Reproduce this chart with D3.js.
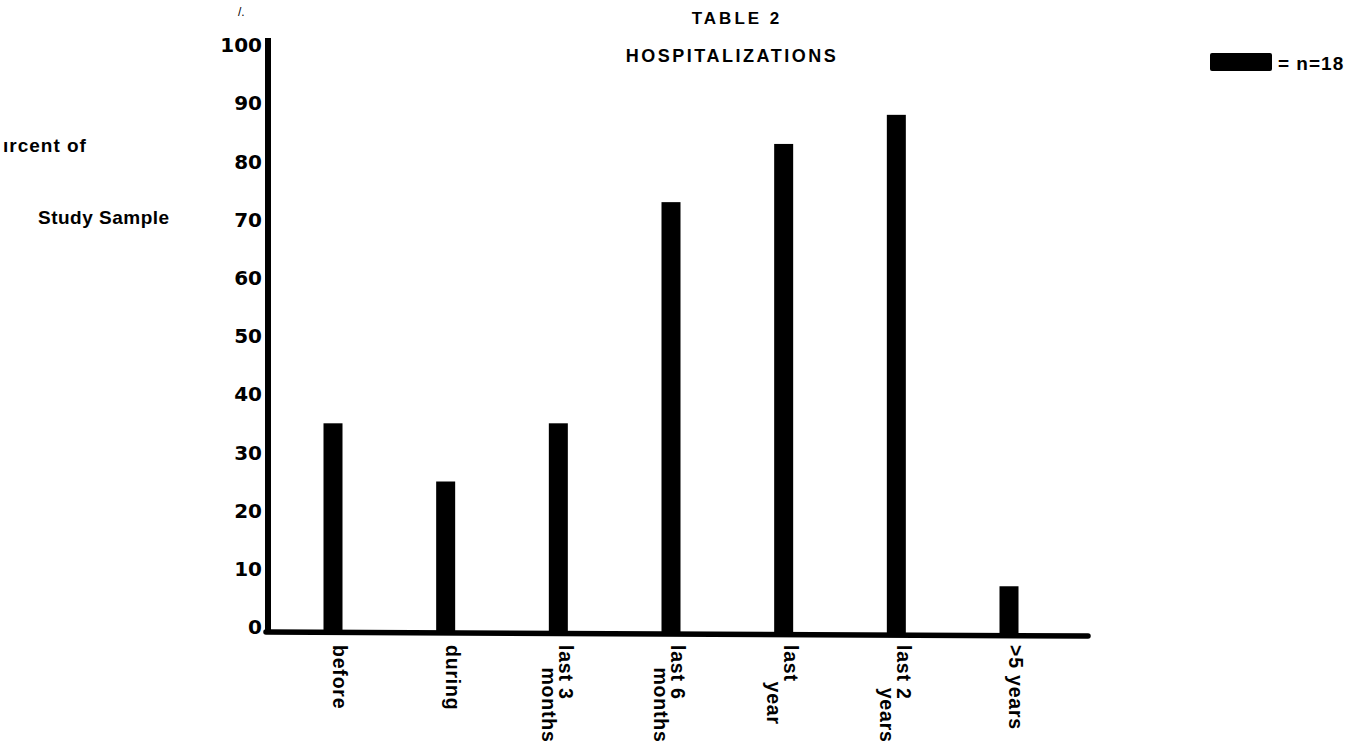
<!DOCTYPE html>
<html>
<head>
<meta charset="utf-8">
<script src="https://cdn.jsdelivr.net/npm/d3@7"></script>
<style>
  body { margin: 0; background: #fff; }
  text { font-family: "Liberation Sans", Arial, sans-serif; font-weight: bold; fill: #000; }
</style>
</head>
<body>
<div id="chart"></div>
<script>
const width = 1366, height = 750;

const categories = ['before', 'during', 'last 3|months', 'last 6|months', 'last|year', 'last 2|years', '>5 years'];
const percents = [35, 25, 35, 73, 83, 88, 7];
const tickValues = [0, 10, 20, 30, 40, 50, 60, 70, 80, 90, 100];

const svg = d3.select('#chart').append('svg')
  .attr('width', width)
  .attr('height', height);

const y = d3.scaleLinear().domain([0, 100]).range([627, 45]);
const x = d3.scalePoint().domain(categories).range([333, 1009]);
const barW = 19;

// tick labels, no tick marks
svg.append('g').selectAll('text')
  .data(tickValues)
  .join('text')
  .attr('x', 262)
  .attr('y', d => y(d))
  .attr('dy', '0.36em')
  .attr('text-anchor', 'end')
  .style('font-family', '"DejaVu Sans", sans-serif')
  .style('font-size', '20px')
  .text(d => d);

// bars
svg.append('g').selectAll('rect')
  .data(percents)
  .join('rect')
  .attr('x', (d, i) => x(categories[i]) - barW / 2)
  .attr('y', d => y(d))
  .attr('width', barW)
  .attr('height', d => y(0) - y(d) + 6)
  .attr('fill', '#000');

// axes
svg.append('line')
  .attr('x1', 268).attr('y1', 38).attr('x2', 268).attr('y2', 634)
  .attr('stroke', '#000').attr('stroke-width', 6);
svg.append('line')
  .attr('x1', 266).attr('y1', 632).attr('x2', 1088).attr('y2', 636)
  .attr('stroke', '#000').attr('stroke-width', 5.5).attr('stroke-linecap', 'round');

// x labels rotated to read downward; 2nd line sits to the left
const xl = svg.append('g').selectAll('g')
  .data(categories)
  .join('g')
  .attr('transform', d => `translate(${x(d) + 7},645) rotate(90)`);
xl.each(function(d) {
  const lines = d.split('|');
  const g = d3.select(this);
  const first = g.append('text')
    .attr('dy', '0.35em')
    .style('font-size', '19.5px')
    .style('letter-spacing', '0.8px')
    .text(lines[0]);
  if (lines.length > 1) {
    const w = first.node().getComputedTextLength();
    g.append('text')
      .attr('x', w + 43)
      .attr('y', 17)
      .attr('dy', '0.35em')
      .attr('text-anchor', 'end')
      .style('font-size', '19.5px')
      .style('letter-spacing', '0.8px')
      .text(lines[1]);
  }
});

// title
svg.append('text')
  .attr('x', 737).attr('y', 24)
  .attr('text-anchor', 'middle')
  .style('font-size', '17px')
  .style('letter-spacing', '3px')
  .text('TABLE 2');
svg.append('text')
  .attr('x', 732).attr('y', 62)
  .attr('text-anchor', 'middle')
  .style('font-size', '18px')
  .style('letter-spacing', '2.5px')
  .text('HOSPITALIZATIONS');
svg.append('text')
  .attr('x', 238).attr('y', 16)
  .style('font-size', '12px')
  .style('font-weight', 'normal')
  .text('/.');

// y axis label
svg.append('text')
  .attr('x', 3).attr('y', 152)
  .style('font-size', '19px')
  .style('letter-spacing', '1px')
  .text('ırcent of');
svg.append('text')
  .attr('x', 38).attr('y', 224)
  .style('font-size', '19px')
  .style('letter-spacing', '0.5px')
  .text('Study Sample');

// legend
svg.append('rect')
  .attr('x', 1210).attr('y', 53)
  .attr('width', 62).attr('height', 18)
  .attr('rx', 2)
  .attr('fill', '#000');
svg.append('text')
  .attr('x', 1278).attr('y', 70)
  .style('font-size', '19px')
  .style('letter-spacing', '1px')
  .text('= n=18');
</script>
</body>
</html>
